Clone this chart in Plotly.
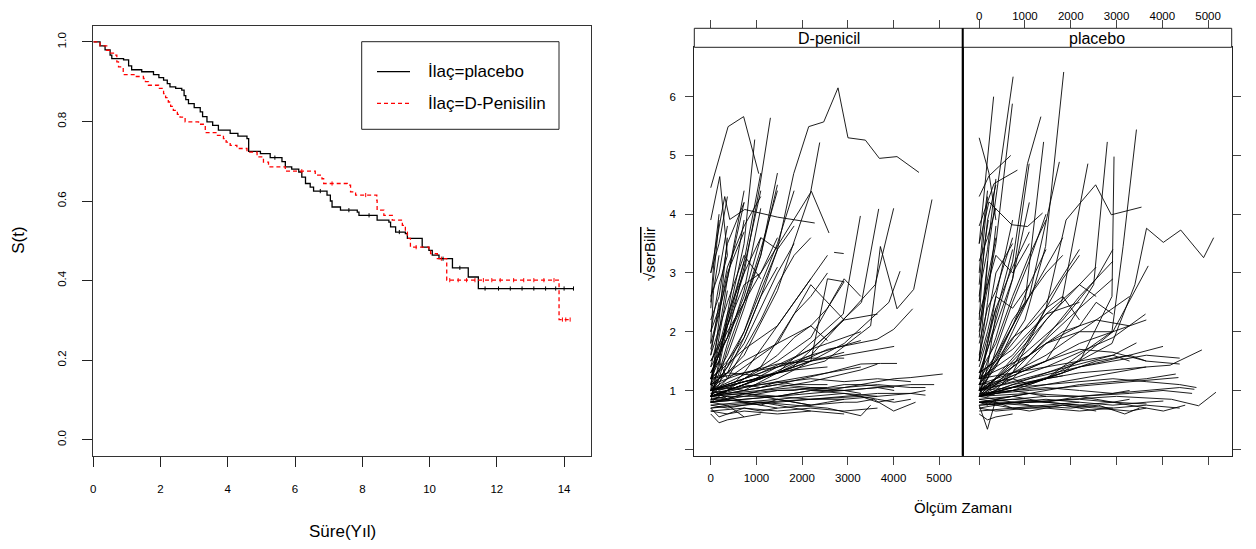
import plotly.graph_objects as go

W, H = 1240, 533      # figure size (page has an 8px body margin)
OFF = 8
FONT = "Liberation Sans, Arial, sans-serif"

# ---------------- Kaplan-Meier data (years, survival) ----------------
km_placebo_t = [0, 0.2, 0.35, 0.5, 0.55, 0.9, 1.05, 1.14, 1.44, 1.79, 1.95, 2.09, 2.2, 2.28, 2.45, 2.63, 2.7, 2.75,
                2.83, 3.0, 3.18, 3.25, 3.38, 3.55, 3.72, 4.07, 4.3, 4.57, 4.62, 4.97, 5.26, 5.61, 5.71, 5.9, 6.11,
                6.2, 6.31, 6.45, 6.55, 6.95, 7.05, 7.1, 7.35, 7.85, 7.9, 8.44, 8.79, 8.84, 8.99, 9.28, 9.34, 9.78,
                9.98, 10.08, 10.28, 10.68, 11.15, 11.45, 14.28]
km_placebo_s = [1.0, 0.99, 0.98, 0.967, 0.958, 0.955, 0.94, 0.93, 0.925, 0.918, 0.91, 0.904, 0.895, 0.887, 0.883,
                0.879, 0.865, 0.855, 0.845, 0.835, 0.824, 0.812, 0.799, 0.79, 0.778, 0.770, 0.763, 0.757, 0.725,
                0.719, 0.709, 0.699, 0.686, 0.68, 0.673, 0.66, 0.644, 0.635, 0.625, 0.615, 0.6, 0.585, 0.577, 0.572,
                0.564, 0.552, 0.547, 0.535, 0.522, 0.518, 0.506, 0.484, 0.476, 0.464, 0.455, 0.432, 0.409, 0.380,
                0.380]
km_dpen_t = [0, 0.2, 0.4, 0.5, 0.6, 0.7, 0.75, 0.89, 1.24, 1.49, 1.55, 1.64, 1.94, 2.09, 2.15, 2.23, 2.3, 2.38, 2.5,
             2.58, 2.73, 3.13, 3.33, 3.67, 3.87, 3.95, 4.07, 4.27, 4.57, 4.87, 5.06, 5.21, 5.71, 6.6, 6.8, 6.85,
             7.55, 7.65, 7.8, 8.43, 8.44, 8.64, 8.89, 9.19, 9.28, 9.34, 9.43, 9.98, 10.03, 10.23, 10.51, 13.85,
             14.18]
km_dpen_s = [1.0, 0.99, 0.979, 0.972, 0.967, 0.95, 0.937, 0.918, 0.913, 0.908, 0.9, 0.891, 0.883, 0.870, 0.86,
             0.849, 0.838, 0.828, 0.818, 0.811, 0.799, 0.793, 0.772, 0.765, 0.757, 0.748, 0.740, 0.732, 0.723,
             0.711, 0.698, 0.686, 0.675, 0.665, 0.656, 0.644, 0.640, 0.623, 0.615, 0.602, 0.577, 0.564, 0.552,
             0.539, 0.522, 0.506, 0.484, 0.476, 0.468, 0.455, 0.401, 0.302, 0.302]
cens_placebo = [5.4, 6.75, 7.6, 8.2, 9.1, 10.4, 10.9, 11.65, 12.05, 12.4, 12.75, 13.1, 13.45, 13.75, 14.0, 14.28]
cens_dpen = [6.2, 7.1, 8.1, 9.6, 10.35, 10.6, 10.85, 11.1, 11.35, 11.6, 11.85, 12.1, 12.5, 12.8, 13.1, 13.4,
             13.7, 13.95, 14.05, 14.18]
km_xticks = [0, 2, 4, 6, 8, 10, 12, 14]
km_yticks = [0.0, 0.2, 0.4, 0.6, 0.8, 1.0]
legend_labels = ["İlaç=placebo", "İlaç=D-Penisilin"]

# ---------------- Spaghetti data (days, sqrt(serBilir)) ----------------
dpen_times = [
    [0, 380, 720, 1050], [0, 365, 730, 1095, 1460, 1816, 2144, 2473, 2786, 3004, 3385, 3691, 4077, 4558],
    [0, 197, 365], [0, 306, 416, 744, 1460, 2276], [0, 730, 1072, 1306], [0, 365, 730, 963],
    [0, 730, 1460, 2181, 2385], [0, 1095, 2203, 2589], [0, 1460, 2900, 3275], [0, 1800, 3300, 3676],
    [0, 2200, 3600, 4004], [0, 2500, 3500, 3713, 3968, 4077, 4442, 4624, 4843], [2700, 2910],
    [0, 182, 365], [0, 182, 365, 730], [0, 182], [0, 365, 730], [0, 182, 365, 730, 1095], [0, 365, 730, 1095],
    [0, 182, 365], [0, 365, 730, 1095, 1460], [0, 182, 365, 730], [0, 730, 1095, 1460],
    [0, 182, 365, 730, 1095, 1460], [0, 365, 730], [0, 182, 365], [0, 182, 365, 730, 1095],
    [0, 365, 730, 1095, 1460, 1825], [0, 365, 730, 1095], [0, 182, 365], [0, 182, 365, 730],
    [0, 365, 730, 1095, 1460], [0, 182, 365, 730, 1095, 1460, 1825], [0, 730, 1460, 1825], [0, 182, 365],
    [0, 365, 730, 1095], [0, 182, 365, 730, 1095, 1460], [0, 182], [0, 365, 730, 1095, 1460, 1825, 2190],
    [0, 182, 365, 730], [0, 365, 730, 1095, 1460], [0, 182, 365, 730, 1095],
    [0, 365, 730, 1095, 1460, 1825, 2190, 2555], [0, 90, 182], [0, 60, 182],
    [0, 365, 730, 1095, 1460, 1825, 2190, 2555, 2920], [0, 730, 1460, 2190, 2920, 3285],
    [0, 1095, 2190, 2920, 3650], [0, 730, 1460, 2190, 2555, 2920, 3285], [0, 1460, 2555, 3640, 4004, 4420],
    [0, 1460, 2190, 2555, 2920], [0, 730, 1460, 2190, 2555], [0, 1095, 2190, 3285], [0, 730, 1460, 2190],
    [0, 1460, 2555, 3285, 3713, 4077], [0, 1095, 1825, 2190, 2555], [0, 730, 1460, 2190, 2920],
    [0, 1095, 2190, 3285, 3650], [0, 1460, 2190, 2920], [0, 1460, 2920, 3900, 4144],
    [0, 365, 730, 1095, 1460, 1825, 2190, 2555, 2920, 3285, 3650, 4015, 4380, 4745, 5077],
    [0, 730, 1460, 2190, 2920, 3650, 4380, 4890], [0, 730, 1460, 2190, 2920, 3200, 3567, 4004, 4483],
    [0, 365, 1095, 1825, 2555, 3285, 3500], [0, 365, 730, 1460, 2190, 2920, 3650, 4380, 4700],
    [0, 730, 1460, 2190, 2920, 3650], [0, 365, 730, 1095], [0, 182, 365, 730, 1460, 2190, 2920],
    [0, 365, 1095, 1825, 2555, 3285, 4015], [0, 730, 1460, 2190, 2920, 3650, 4380, 4700],
    [0, 365, 730, 1460, 2190, 2920, 3285], [0, 365, 730, 1095, 1460, 1825, 2190],
    [0, 1095, 2190, 3285, 3650, 4015], [0, 730, 1460, 2190, 2920, 3650, 4015, 4380],
    [0, 365, 730, 1095, 1460, 1825, 2555], [0, 1460, 2920, 3650, 4380, 4700], [0, 365, 730, 1460, 2190],
    [0, 182, 365, 730, 1095], [0, 365, 1095, 1825, 2555], [0, 730, 1460, 2190, 2920, 3650],
    [0, 365, 730, 1095, 1460, 1825, 2190, 2555, 2920], [0, 1095, 2190, 2920, 3650, 4380],
    [0, 365, 730, 1095, 1460], [0, 182, 365], [0, 182, 365], [0, 365, 730, 1460, 2190, 2920, 3650, 4015],
    [0, 730, 1460, 2190, 2920], [0, 365, 1095, 1825, 2555, 3285], [0, 730, 1460, 2190, 2920, 3650, 4015],
    [0, 182, 365, 730],
]
dpen_vals = [
    [4.45, 5.49, 5.66, 4.69], [1.2, 1.5, 1.9, 2.6, 3.4, 4.69, 5.49, 5.57, 6.15, 5.30, 5.26, 4.95, 4.98, 4.71],
    [3.9, 4.64, 3.3], [3.0, 4.30, 3.91, 4.08, 3.95, 3.85], [1.2, 3.0, 4.47, 5.64], [1.1, 2.2, 3.5, 5.27],
    [1.0, 1.6, 2.7, 4.35, 5.22], [1.5, 3.0, 4.39, 3.68], [0.9, 1.3, 2.3, 3.97], [0.9, 1.4, 2.5, 4.09],
    [1.0, 1.6, 2.8, 4.10], [1.0, 1.5, 2.1, 3.45, 2.72, 2.39, 2.72, 3.39, 4.25], [3.35, 3.33],
    [1.0, 2.2, 3.6], [1.4, 2.0, 2.9, 4.4], [2.4, 3.9], [1.2, 2.3, 3.9], [0.9, 1.3, 1.8, 2.7, 4.1],
    [1.5, 2.1, 3.2, 4.7], [2.0, 2.8, 3.3], [1.1, 1.6, 2.4, 3.3, 4.5], [0.8, 1.5, 2.2, 3.2], [1.3, 2.5, 3.3, 4.7],
    [0.9, 1.2, 1.7, 2.5, 3.4, 4.4], [1.8, 2.9, 4.2], [2.6, 3.0, 3.8], [1.2, 1.5, 2.3, 3.0, 3.6],
    [1.0, 1.4, 2.0, 2.8, 3.5, 4.4], [1.6, 2.5, 3.3, 2.9], [1.1, 1.9, 2.7], [2.2, 2.6, 3.5, 4.2],
    [1.3, 1.9, 2.6, 3.6, 3.4], [0.9, 1.1, 1.5, 2.0, 2.7, 3.4, 3.8], [1.0, 1.8, 3.0, 3.5], [3.0, 3.5, 4.3],
    [1.4, 1.9, 3.1, 4.4], [1.0, 1.4, 2.1, 2.8, 3.0, 3.6], [1.6, 2.5], [0.9, 1.2, 1.7, 2.2, 2.8, 3.3, 3.6],
    [1.7, 2.3, 3.0, 3.7], [1.1, 1.3, 1.9, 2.6, 3.1], [2.0, 2.4, 3.1, 3.8, 4.3],
    [0.8, 1.0, 1.3, 1.7, 2.1, 2.5, 2.9, 3.3], [2.5, 3.4, 4.0], [1.8, 2.7, 3.3],
    [0.9, 1.0, 1.2, 1.4, 1.6, 1.9, 2.1, 2.4, 2.85], [1.0, 1.2, 1.5, 1.9, 2.9, 2.6],
    [1.0, 1.3, 1.7, 2.2, 2.3], [0.9, 1.1, 1.4, 1.7, 1.8, 1.9, 2.0], [1.0, 1.3, 1.7, 1.87, 2.04, 2.39],
    [1.0, 1.3, 1.5, 2.9, 2.85], [1.1, 1.5, 1.8, 2.1, 1.85], [0.9, 1.2, 1.6, 1.85], [1.2, 1.7, 2.1, 2.9],
    [0.9, 1.1, 1.3, 1.45, 1.46, 1.46], [1.0, 1.4, 2.3, 2.6, 3.0], [0.9, 1.0, 1.3, 1.5, 1.65],
    [0.8, 1.0, 1.15, 1.35, 1.45], [1.0, 1.8, 2.8, 2.2], [0.9, 1.2, 1.8, 2.5, 3.03],
    [0.85, 0.9, 0.9, 0.95, 1.0, 1.0, 1.05, 1.05, 1.1, 1.1, 1.15, 1.2, 1.22, 1.25, 1.28],
    [0.8, 0.85, 0.9, 0.95, 1.0, 1.05, 1.1, 1.1], [0.75, 0.8, 0.7, 0.75, 0.8, 0.80, 0.85, 0.65, 0.80],
    [0.7, 0.75, 0.8, 0.75, 0.7, 0.57, 0.75], [0.9, 0.85, 0.95, 0.9, 1.0, 0.95, 0.9, 0.95, 0.92],
    [0.65, 0.7, 0.65, 0.7, 0.65, 0.7], [0.8, 0.75, 0.55, 0.6], [0.7, 0.55, 0.6, 0.65, 0.6, 0.65, 0.6],
    [1.0, 0.95, 1.0, 1.05, 1.0, 1.1, 1.05], [0.8, 0.85, 0.9, 0.85, 0.9, 0.95, 0.95, 1.0],
    [1.0, 1.05, 1.0, 1.1, 1.05, 1.0, 0.95], [0.75, 0.7, 0.75, 0.8, 0.75, 0.7, 0.65],
    [0.85, 0.8, 0.85, 0.9, 0.8, 0.85], [0.9, 0.95, 0.85, 0.9, 0.95, 0.85, 0.8, 0.85],
    [0.95, 1.0, 1.1, 1.05, 1.15, 1.1, 1.1], [0.9, 1.0, 1.05, 1.1, 1.05, 1.05], [0.85, 0.9, 0.8, 0.85, 0.75],
    [1.1, 1.0, 1.05, 1.15, 1.2], [1.2, 1.3, 1.25, 1.35, 1.4], [0.7, 0.75, 0.8, 0.85, 0.85, 0.9],
    [0.8, 0.85, 0.8, 0.75, 0.85, 0.8, 0.75, 0.8, 0.85], [1.0, 1.1, 1.2, 1.15, 1.2, 1.15],
    [0.65, 0.6, 0.7, 0.65, 0.7], [0.9, 0.95, 0.85], [1.3, 1.5, 1.2], [1.1, 1.2, 1.3, 1.45, 1.5, 1.6, 1.7, 1.75],
    [1.2, 1.3, 1.4, 1.55, 1.55], [0.95, 1.0, 1.1, 1.2, 1.3, 1.4], [0.8, 0.9, 0.9, 1.0, 1.0, 1.05, 1.0],
    [0.6, 0.45, 0.5, 0.55],
]
plac_times = [
    [0, 1000, 1450, 1846], [0, 213, 741], [0, 180, 315], [0, 365, 725], [0, 730, 1055, 1348],
    [0, 1460, 2900, 3143, 3435], [0, 1460, 2500, 2798], [0, 2200, 2900, 2945],
    [0, 730, 1460, 1897, 2227, 2543, 2886, 3545], [0, 1800, 2374],
    [0, 1460, 2900, 3400, 3655, 4022, 4402, 4901, 5121], [0, 1000, 1407], [0, 1095, 1751], [0, 730, 1092],
    [0, 213, 690], [0, 323, 835], [0, 213, 365], [0, 213, 711, 1055, 1385],
    [0, 1460, 2900, 3650, 4169, 4864], [0, 1000, 2000, 3000, 4200, 4791, 5171], [0, 180, 365],
    [0, 1000, 2000, 2600, 3180, 3500], [0, 1460, 2920, 3435], [0, 1460, 2920, 3633], [0, 1825, 2920, 3692],
    [0, 182, 365], [0, 182, 365, 730], [0, 182], [0, 365, 730, 1095], [0, 182, 365, 730, 1095, 1460],
    [0, 365, 730, 1095, 1460], [0, 182, 365], [0, 365, 730, 1095, 1460, 1825], [0, 182, 365, 730],
    [0, 730, 1460, 2190], [0, 365, 730, 1095, 1460, 1825, 2190], [0, 182, 365, 730], [0, 182, 365],
    [0, 365, 730, 1095, 1460, 1825, 2190, 2555], [0, 730, 1460, 2190, 2555], [0, 182, 365, 730, 1095],
    [0, 182], [0, 365, 730, 1095, 1460], [0, 730, 1460, 2190, 2920], [0, 182, 365, 730, 1095],
    [0, 365, 1095, 1825, 2555, 2920], [0, 182, 365], [0, 365, 730, 1095, 1460, 1825], [0, 1095, 2190, 2920],
    [0, 365, 730, 1095, 1460, 1825, 2190], [0, 182, 365, 730], [0, 730, 1460, 2190, 2555, 2920],
    [0, 182, 365], [0, 365, 730, 1460, 2190, 2920, 3285], [0, 182, 365, 730, 1095], [0, 90, 182],
    [0, 120, 200], [0, 60, 182, 365],
    [0, 730, 1460, 2190, 2920, 3650, 4380], [0, 1095, 2190, 3285, 4015], [0, 730, 1460, 2190, 2920, 3650],
    [0, 1460, 2555, 3285, 3650, 4380], [0, 730, 1460, 2190, 2920], [0, 1095, 1825, 2555, 3285],
    [0, 730, 1460, 2190], [0, 1460, 2190, 2920, 3650],
    [0, 730, 1460, 2190, 2920, 3650, 4380, 4700], [0, 365, 1095, 1825, 2555, 3285, 4015, 4352],
    [0, 730, 1460, 2190, 2920, 3650, 4293], [0, 365, 730, 1460, 2190, 2920, 3650, 4022],
    [0, 1095, 2190, 2920, 3655], [0, 365, 730, 1095, 1460, 1825, 2190, 2555],
    [0, 730, 1460, 2190, 2920, 3650, 4022, 4500], [0, 365, 730, 1095], [0, 182, 365, 730, 1460],
    [0, 730, 1460, 2190, 2920, 3285], [0, 365, 1095, 1825, 2555, 3285, 3650],
    [0, 730, 1460, 2190, 2920, 3650, 4380, 4745], [0, 365, 730, 1460, 2190], [0, 182, 365, 730],
    [0, 1095, 2190, 3285, 4015, 4650], [0, 365, 730, 1095, 1460, 1825], [0, 730, 1460, 2190, 2920],
    [0, 365, 730, 1460, 2190, 2920, 3650], [0, 730, 1460, 2190, 2555, 2920, 3285], [0, 182, 365, 730, 1095],
    [0, 730, 1460, 2190, 2920, 3650, 4380], [0, 365, 730, 1095, 1460, 1825, 2190, 2555, 2920, 3285],
]
plac_vals = [
    [1.0, 2.2, 3.45, 6.42], [1.5, 3.45, 6.34], [3.5, 4.88, 6.0], [2.0, 3.5, 5.88], [1.2, 3.2, 4.86, 5.66],
    [0.9, 1.2, 2.0, 3.45, 5.44], [1.0, 1.5, 2.8, 5.23], [0.9, 1.5, 2.6, 4.98],
    [0.9, 1.3, 2.4, 3.90, 4.21, 4.50, 3.99, 4.12], [0.9, 2.5, 4.86],
    [0.9, 1.2, 1.8, 2.8, 3.76, 3.52, 3.73, 3.26, 3.60], [1.0, 2.5, 5.23], [1.1, 2.6, 4.89], [1.3, 2.9, 4.86],
    [4.3, 4.65, 5.0], [3.8, 4.52, 4.75], [5.3, 4.7, 3.9], [3.5, 4.21, 3.82, 3.79, 4.02],
    [0.9, 1.1, 1.3, 1.4, 1.43, 1.69], [0.8, 0.8, 0.85, 0.9, 0.85, 0.74, 0.97], [0.75, 0.34, 0.85],
    [0.8, 0.75, 0.7, 0.75, 0.6, 0.7], [1.0, 1.3, 1.6, 1.81], [1.0, 1.4, 1.9, 2.30], [0.9, 1.3, 2.0, 3.12],
    [1.5, 2.5, 3.8], [1.2, 1.8, 2.6, 3.9], [2.8, 4.3], [1.1, 1.9, 2.9, 4.2], [0.9, 1.2, 1.7, 2.5, 3.2, 4.0],
    [1.3, 1.8, 2.6, 3.3, 3.9], [2.1, 2.9, 3.6], [1.0, 1.4, 2.0, 2.6, 3.1, 3.6], [0.9, 1.4, 2.3, 3.4],
    [1.1, 1.8, 2.5, 3.4], [0.9, 1.1, 1.4, 1.9, 2.4, 2.9, 3.3], [1.6, 2.2, 3.0, 3.5], [3.2, 3.6, 4.1],
    [1.0, 1.2, 1.5, 1.8, 2.2, 2.5, 2.8, 3.1], [1.2, 1.6, 2.3, 2.8, 2.6], [1.4, 1.9, 2.4, 3.1, 3.7],
    [1.9, 3.2], [1.1, 1.5, 2.1, 2.8, 3.4], [1.0, 1.3, 1.9, 2.6, 3.2], [2.3, 2.8, 3.3, 3.0, 3.5],
    [0.9, 1.2, 1.7, 2.2, 2.9, 3.4], [2.6, 3.9, 4.5], [1.2, 1.6, 2.2, 2.6, 3.0, 3.3], [1.0, 1.6, 2.4, 2.9],
    [1.3, 1.5, 1.9, 2.1, 2.4, 2.6, 2.2], [1.8, 2.4, 2.7, 3.6], [0.9, 1.2, 1.8, 2.1, 2.5, 2.3],
    [1.0, 1.8, 2.4], [0.9, 1.0, 1.3, 1.6, 2.0, 2.4, 2.6], [1.5, 2.0, 2.6, 2.4, 2.8], [3.0, 3.8, 4.4],
    [2.5, 3.5, 3.9], [2.2, 2.9, 3.4, 4.6],
    [0.9, 1.0, 1.2, 1.4, 1.5, 1.6, 1.55], [1.0, 1.2, 1.4, 1.6, 1.75], [1.1, 1.3, 1.5, 1.7, 1.65, 1.5],
    [0.9, 1.2, 1.5, 1.6, 1.5, 1.45], [1.0, 1.4, 1.8, 2.0, 2.0], [1.2, 1.6, 2.0, 2.2, 2.1],
    [1.3, 1.7, 2.3, 2.5], [1.0, 1.5, 1.8, 2.0, 2.2],
    [0.8, 0.85, 0.9, 0.9, 0.95, 1.0, 1.05, 1.02], [0.9, 0.95, 1.0, 1.05, 1.1, 1.15, 1.2, 1.22],
    [0.85, 0.9, 1.0, 1.1, 1.15, 1.2, 1.28], [0.8, 0.75, 0.8, 0.85, 0.8, 0.75, 0.8, 0.82],
    [0.75, 0.8, 0.85, 0.8, 0.77], [0.7, 0.75, 0.7, 0.65, 0.7, 0.75, 0.7, 0.65],
    [0.75, 0.8, 0.8, 0.75, 0.8, 0.7, 0.65, 0.75], [0.9, 0.85, 0.9, 0.95], [1.0, 0.9, 0.95, 1.0, 0.9],
    [0.95, 1.0, 1.05, 1.0, 0.95, 1.0], [0.7, 0.65, 0.7, 0.75, 0.7, 0.65, 0.7],
    [1.0, 1.05, 1.1, 1.15, 1.2, 1.15, 1.1, 1.05], [0.85, 0.8, 0.7, 0.75, 0.8], [0.6, 0.5, 0.55, 0.6],
    [0.9, 0.95, 0.9, 0.95, 1.0, 0.95], [1.1, 1.15, 1.2, 1.1, 1.2, 1.25], [0.8, 0.85, 0.8, 0.75, 0.7],
    [0.9, 1.0, 1.1, 1.2, 1.3, 1.35, 1.4], [1.2, 1.3, 1.4, 1.5, 1.55, 1.6, 1.5], [0.8, 0.75, 0.85, 0.8, 0.75],
    [0.65, 0.7, 0.7, 0.65, 0.7, 0.75, 0.7], [0.8, 0.85, 0.9, 0.85, 0.8, 0.85, 0.9, 0.85, 0.8, 0.85],
]
panel_names = ["D-penicil", "placebo"]
sp_xticks = [0, 1000, 2000, 3000, 4000, 5000]
sp_yticks = [0, 1, 2, 3, 4, 5, 6]
sp_yticktext = ["", "1", "2", "3", "4", "5", "6"]


def px(x):
    """page x pixel -> paper fraction"""
    return (x - OFF) / W


def py(y):
    """page y pixel -> paper fraction"""
    return 1 - (y - OFF) / H


def step_at(ts, ss, t):
    val = ss[0]
    for ti, si in zip(ts, ss):
        if ti <= t:
            val = si
    return val


def spaghetti(times, vals):
    xs, ys = [], []
    for t, v in zip(times, vals):
        xs += list(t) + [None]
        ys += list(v) + [None]
    return xs, ys


fig = go.Figure()

# KM curves
fig.add_trace(go.Scatter(x=km_placebo_t, y=km_placebo_s, mode="lines", line_shape="hv",
                         line=dict(color="black", width=1.3), xaxis="x", yaxis="y", showlegend=False))
fig.add_trace(go.Scatter(x=km_dpen_t, y=km_dpen_s, mode="lines", line_shape="hv",
                         line=dict(color="#ff0000", width=1.3, dash="4px,3px"), xaxis="x", yaxis="y",
                         showlegend=False))
fig.add_trace(go.Scatter(x=cens_placebo, y=[step_at(km_placebo_t, km_placebo_s, t) for t in cens_placebo],
                         mode="markers", marker=dict(symbol="line-ns", size=3, line=dict(color="black", width=1)),
                         xaxis="x", yaxis="y", showlegend=False))
fig.add_trace(go.Scatter(x=cens_dpen, y=[step_at(km_dpen_t, km_dpen_s, t) for t in cens_dpen],
                         mode="markers", marker=dict(symbol="line-ns", size=3, line=dict(color="#ff0000", width=1)),
                         xaxis="x", yaxis="y", showlegend=False))

# Spaghetti panels
dx, dy = spaghetti(dpen_times, dpen_vals)
fig.add_trace(go.Scatter(x=dx, y=dy, mode="lines", line=dict(color="rgba(0,0,0,0.88)", width=1),
                         xaxis="x2", yaxis="y2", showlegend=False, connectgaps=False))
qx, qy = spaghetti(plac_times, plac_vals)
fig.add_trace(go.Scatter(x=qx, y=qy, mode="lines", line=dict(color="rgba(0,0,0,0.88)", width=1),
                         xaxis="x3", yaxis="y3", showlegend=False, connectgaps=False))
# invisible traces to activate top axes
fig.add_trace(go.Scatter(x=[0], y=[None], xaxis="x4", yaxis="y2", showlegend=False, mode="markers"))
fig.add_trace(go.Scatter(x=[0], y=[None], xaxis="x5", yaxis="y3", showlegend=False, mode="markers"))

tickfont = dict(family=FONT, size=11.5, color="black")
L, R, T, B = 93.3, 591, 26, 455.6
PL, PM, PR, ST, PT, PB = 694.3, 962.7, 1231.7, 28.3, 47.3, 455.7
XR = [-360, 5515]
YR = [-0.11, 6.84]

fig.update_layout(
    width=W, height=H, margin=dict(l=0, r=0, t=0, b=0, autoexpand=False),
    paper_bgcolor="white", plot_bgcolor="white",
    font=dict(family=FONT, color="black"),
    xaxis=dict(domain=[px(L), px(R)], anchor="y", range=[0, 14.8], tickvals=km_xticks, automargin=False,
               ticks="outside", ticklen=10, tickcolor="#222", showline=True, linecolor="#333", mirror=True,
               showgrid=False, zeroline=False, tickfont=tickfont, ticklabelstandoff=13),
    yaxis=dict(domain=[py(B), py(T)], anchor="x", range=[-0.04, 1.04], tickvals=km_yticks, automargin=False,
               ticktext=["%.1f" % v for v in km_yticks], tickangle=-90,
               ticks="outside", ticklen=10, tickcolor="#222", showline=True, linecolor="#333", mirror=True,
               showgrid=False, zeroline=False, tickfont=tickfont, ticklabelstandoff=12),
    xaxis2=dict(domain=[px(PL), px(PM)], anchor="y2", range=XR, tickvals=sp_xticks, automargin=False,
                ticks="outside", ticklen=8, showline=True, linecolor="#222", mirror=True,
                showgrid=False, zeroline=False, tickfont=tickfont, ticklabelstandoff=3),
    yaxis2=dict(domain=[py(PB), py(PT)], anchor="x2", range=YR, tickvals=sp_yticks, ticktext=sp_yticktext,
                automargin=False,
                ticks="outside", ticklen=8, showline=True, linecolor="#222", mirror=True,
                showgrid=False, zeroline=False, tickfont=tickfont, ticklabelstandoff=7),
    xaxis3=dict(domain=[px(PM), px(PR)], anchor="y3", range=XR, tickvals=sp_xticks, showticklabels=False,
                automargin=False,
                ticks="outside", ticklen=8, showline=True, linecolor="#222", mirror=True,
                showgrid=False, zeroline=False),
    yaxis3=dict(domain=[py(PB), py(PT)], anchor="x3", range=YR, tickvals=sp_yticks, showticklabels=False,
                automargin=False,
                side="right", ticks="outside", ticklen=8, showline=True, linecolor="#222", mirror=True,
                showgrid=False, zeroline=False),
    xaxis4=dict(overlaying="x2", side="top", anchor="free", position=py(ST), range=XR, tickvals=sp_xticks,
                automargin=False,
                showticklabels=False, ticks="outside", ticklen=8, showline=False, showgrid=False,
                zeroline=False),
    xaxis5=dict(overlaying="x3", side="top", anchor="free", position=py(ST), range=XR, tickvals=sp_xticks,
                automargin=False,
                ticks="outside", ticklen=8, showline=False, showgrid=False, zeroline=False,
                tickfont=tickfont, ticklabelstandoff=-4),
)

shapes = []
# strips
for x0, x1 in [(PL, PM), (PM, PR)]:
    shapes.append(dict(type="rect", xref="paper", yref="paper", x0=px(x0), x1=px(x1), y0=py(PT), y1=py(ST),
                       fillcolor="white", line=dict(color="#222", width=1)))
# thick divider between panels
shapes.append(dict(type="line", xref="paper", yref="paper", x0=px(PM), x1=px(PM), y0=py(PB), y1=py(ST),
                   line=dict(color="black", width=2)))
# legend box
shapes.append(dict(type="rect", xref="paper", yref="paper", x0=px(361.7), x1=px(559), y0=py(129.3), y1=py(41.7),
                   fillcolor="rgba(0,0,0,0)", line=dict(color="#222", width=1)))
shapes.append(dict(type="line", xref="paper", yref="paper", x0=px(377), x1=px(410), y0=py(71.7), y1=py(71.7),
                   line=dict(color="black", width=1.3)))
shapes.append(dict(type="line", xref="paper", yref="paper", x0=px(377), x1=px(410), y0=py(103.3), y1=py(103.3),
                   line=dict(color="#ff0000", width=1.3, dash="4px,3px")))
fig.update_layout(shapes=shapes)

ann = []
ann.append(dict(x=px(426), y=py(71.7), text=legend_labels[0], xanchor="left", yanchor="middle",
                font=dict(size=17)))
ann.append(dict(x=px(426), y=py(103.3), text=legend_labels[1], xanchor="left", yanchor="middle",
                font=dict(size=17)))
ann.append(dict(x=px(19), y=py(240.8), text="S(t)", textangle=-90, xanchor="center", yanchor="middle",
                font=dict(size=17)))
ann.append(dict(x=px(342), y=py(531.5), text="Süre(Yıl)", xanchor="center", yanchor="middle",
                font=dict(size=17)))
ann.append(dict(x=px((PL + PM) / 2), y=py(38.5), text=panel_names[0], xanchor="center", yanchor="middle",
                font=dict(size=16)))
ann.append(dict(x=px((PM + PR) / 2), y=py(38.5), text=panel_names[1], xanchor="center", yanchor="middle",
                font=dict(size=16)))
ann.append(dict(x=px(649), y=py(254), text="√<span style='text-decoration:overline'>serBilir</span>",
                textangle=-90, xanchor="center", yanchor="middle", font=dict(size=15)))
ann.append(dict(x=px(963), y=py(507), text="Ölçüm Zamanı", xanchor="center", yanchor="middle",
                font=dict(size=15)))
for a in ann:
    a.update(xref="paper", yref="paper", showarrow=False)
fig.update_layout(annotations=ann)

fig.write_html("out.html")
